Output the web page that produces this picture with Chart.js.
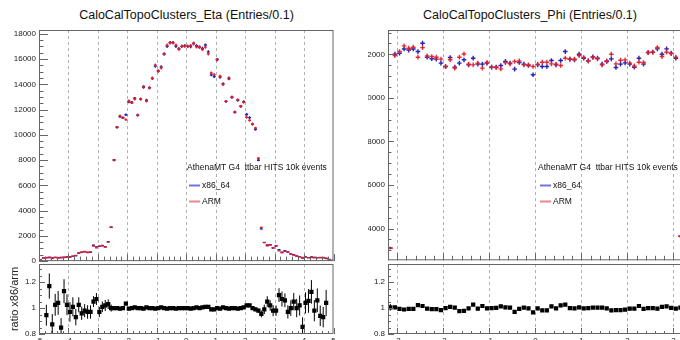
<!DOCTYPE html>
<html>
<head>
<meta charset="utf-8">
<title>CaloCalTopoClusters</title>
<script src="https://cdn.jsdelivr.net/npm/chart.js@4.4.0/dist/chart.umd.min.js"></script>
<style>
    body { margin: 0; width: 680px; height: 340px; overflow: hidden; background: #fff; position: relative;
           font-family: "Liberation Sans", Arial, Helvetica, sans-serif; }
    canvas { position: absolute; }
    .title { position: absolute; top: 8px; font-size: 12.5px; line-height: 15px; color: #111;
             text-align: center; white-space: nowrap; }
    #phiClip { position: absolute; left: 368px; top: 0; width: 312px; height: 340px; overflow: hidden; }
</style>
</head>
<body>
<div class="title" style="left:0;width:373px">CaloCalTopoClusters_Eta (Entries/0.1)</div>
<div class="title" style="left:380px;width:300px">CaloCalTopoClusters_Phi (Entries/0.1)</div>
<canvas id="etaMain" width="340" height="264" style="left:0;top:0"></canvas>
<canvas id="etaRatio" width="340" height="79" style="left:0;top:261px"></canvas>
<div id="phiClip">
    <canvas id="phiMain" width="350" height="264" style="left:-28px;top:0"></canvas>
    <canvas id="phiRatio" width="350" height="79" style="left:-28px;top:261px"></canvas>
</div>
<script>
// ===== DATA =====
const binWidth = 0.1;
const etaRange = [-5, 5];
const phiRange = [-3.2, 3.2];
const seriesNames = ['x86_64', 'ARM'];
const legendHeader = 'AthenaMT G4  ttbar HITS 10k events';

// eta, 100 bins
const etaArm = [100, 250, 280, 270, 260, 290, 250, 300, 280, 320,
    330, 380, 450, 620, 720, 760, 700, 720, 1200, 1050,
    1200, 1220, 1120, 1500, 2680, 8000, 10600, 11500, 11350, 11200,
    12680, 12560, 12830, 11560, 12830, 13830, 12680, 13730, 14470, 15520,
    15050, 15300, 16400, 17100, 17300, 17300, 17100, 16800, 17000, 17050,
    17000, 17070, 17230, 16970, 16940, 16760, 16940, 16410, 14900, 14770,
    15960, 14640, 13980, 12650, 14510, 12970, 11800, 12790, 12260, 12570,
    11380, 11140, 10850, 10540, 8150, 2670, 1480, 1220, 1270, 1060,
    1220, 820, 660, 770, 740, 560, 480, 400, 340, 290,
    320, 260, 290, 290, 260, 290, 290, 210, 130, 60];
const etaX86 = [90, 240, 265, 316, 228, 297, 260, 255, 316, 328,
    320, 384, 419, 636, 691, 745, 679, 698, 1260, 1124,
    1164, 1232, 1142, 1545, 2680, 8000, 10600, 11440, 11350, 11590,
    12620, 12560, 12890, 11560, 12830, 13760, 12740, 13730, 14470, 15440,
    15050, 15380, 16400, 17010, 17300, 17300, 17010, 16800, 17000, 17050,
    17000, 16980, 17230, 17050, 16940, 16840, 17110, 16570, 14750, 14620,
    15960, 14570, 14050, 12650, 14440, 12970, 11800, 12730, 12260, 12630,
    11610, 11360, 10850, 10430, 7990, 2550, 1465, 1280, 1295, 1040,
    1195, 900, 705, 815, 720, 560, 505, 400, 345, 250,
    335, 275, 325, 285, 275, 275, 270, 220, 120, 55];
const etaRatio = [null, null, 0.945, 1.17, 0.875, 1.025, 1.04, 0.85, 1.13, 1.025,
    0.97, 1.01, 0.93, 1.025, 0.96, 0.98, 0.97, 0.97, 1.05, 1.07,
    0.97, 1.01, 1.02, 1.03, 1.0, 1.0, 1.0, 0.995, 1.0, 1.035,
    0.995, 1.0, 1.005, 1.0, 1.0, 0.995, 1.005, 1.0, 1.0, 0.995,
    1.0, 1.005, 1.0, 0.995, 1.0, 1.0, 0.995, 1.0, 1.0, 1.0,
    1.0, 0.995, 1.0, 1.005, 1.0, 1.005, 1.01, 1.01, 0.99, 0.99,
    1.0, 0.995, 1.005, 1.0, 0.995, 1.0, 1.0, 0.995, 1.0, 1.005,
    1.02, 1.02, 1.0, 0.99, 0.98, 0.955, 0.99, 1.05, 1.02, 0.98,
    0.98, 1.1, 1.07, 1.06, 0.97, 1.0, 1.05, 1.0, 1.02, 0.855,
    1.04, 1.055, 1.125, 0.98, 1.06, 0.94, 0.93, 1.04, null, null];

// phi, 64 bins
const phiArm = [3090, 11945, 12130, 12390, 12280, 12330, 11870, 12310, 11930, 11900,
    11870, 11780, 11440, 11750, 11370, 11870, 12020, 11550, 11520, 11600,
    11370, 11625, 11415, 11395, 11335, 11620, 11565, 11672, 11702, 11519,
    11519, 11443, 11550, 11641, 11641, 11565, 11550, 11489, 11824, 11779,
    11779, 11947, 11855, 11702, 11855, 11794, 11519, 11702, 12008, 11565,
    11733, 11749, 11596, 11473, 11641, 11626, 12084, 12100, 12313, 11901,
    12100, 12038, 11870, 3640];
const phiX86 = [3110, 12010, 12055, 12250, 12200, 12250, 12130, 12510, 11870, 11800,
    11780, 11600, 11440, 11855, 11415, 11600, 11750, 11520, 11825, 11550,
    11550, 11600, 11415, 11415, 11490, 11680, 11596, 11321, 11626, 11550,
    11489, 11061, 11519, 11443, 11443, 11718, 11519, 11718, 12130, 11779,
    11749, 12008, 11824, 11702, 11885, 11824, 11550, 11672, 11794, 11397,
    11550, 11611, 11550, 11412, 11824, 11550, 12084, 12100, 12252, 12008,
    12252, 12054, 11824, 3650];
const phiRatio = [1.006, 1.005, 0.994, 0.989, 0.993, 0.994, 1.022, 1.016, 0.995, 0.992,
    0.992, 0.985, 1.0, 1.009, 1.004, 0.977, 0.978, 0.997, 1.026, 0.996,
    1.016, 0.998, 1.0, 1.002, 1.014, 1.005, 1.003, 0.97, 0.994, 1.003,
    0.997, 0.967, 0.997, 0.983, 0.983, 1.013, 0.997, 1.02, 1.026, 1.0,
    0.997, 1.005, 0.997, 1.0, 1.003, 1.003, 1.003, 0.997, 0.982, 0.985,
    0.984, 0.988, 0.996, 0.995, 1.016, 0.993, 1.0, 1.0, 0.995, 1.009,
    1.013, 1.001, 0.996, 1.003];

// axes
const etaYRange = [0, 18300];
const phiYRange = [2540, 13120];
const ratioRange = [0.8, 1.34];
const etaYTicks = [0, 2000, 4000, 6000, 8000, 10000, 12000, 14000, 16000, 18000];
const phiYTicks = [4000, 6000, 8000, 10000, 12000];
const ratioTicks = [0.8, 1, 1.2];
const etaXTicks = [-5, -4, -3, -2, -1, 0, 1, 2, 3, 4, 5];
const phiXTicks = [-3, -2, -1, 0, 1, 2, 3];

// ===== STYLE =====
const FONT = '"Liberation Sans", Arial, Helvetica, sans-serif';
const x86Color = '#2424b4';
const armColor = 'rgba(228, 28, 36, 0.9)';
Chart.defaults.font.family = FONT;
Chart.defaults.color = '#222';

function binCenters(range, values) {
    return values.map((_, i) => +(range[0] + (i + 0.5) * binWidth).toFixed(3));
}

function stepsBetween(min, max, step) {
    const out = [];
    for (let k = Math.ceil(min / step - 1e-6); k * step <= max + 1e-6; k++) {
        out.push(+(k * step).toFixed(6));
    }
    return out;
}

function isMajor(v, list) {
    return list.some(t => Math.abs(t - v) < 1e-6);
}

// ROOT-like frame, inside ticks, dashed verticals, error bars and legend
const rootStyle = {
    id: 'rootStyle',
    beforeDatasetsDraw(chart, args, o) {
        const { ctx, chartArea: a, scales: { x } } = chart;
        ctx.save();
        ctx.strokeStyle = '#b0b0b0';
        ctx.lineWidth = 1;
        ctx.setLineDash([3, 3]);
        o.grid.forEach(v => {
            const px = Math.round(x.getPixelForValue(v)) + 0.5;
            ctx.beginPath();
            ctx.moveTo(px, a.top);
            ctx.lineTo(px, a.bottom);
            ctx.stroke();
        });
        ctx.restore();
    },
    afterDatasetDraw(chart, args) {
        const ds = chart.data.datasets[args.index];
        if (!ds.errors) return;
        const { ctx, chartArea: a, scales: { y } } = chart;
        ctx.save();
        ctx.beginPath();
        ctx.rect(a.left, a.top, a.width, a.height);
        ctx.clip();
        ctx.strokeStyle = ds.errColor;
        ctx.lineWidth = ds.errWidth;
        args.meta.data.forEach((pt, i) => {
            const v = ds.data[i].y;
            if (v == null) return;
            const e = ds.errors[i];
            ctx.beginPath();
            ctx.moveTo(pt.x, y.getPixelForValue(v - e));
            ctx.lineTo(pt.x, y.getPixelForValue(v + e));
            ctx.stroke();
        });
        ctx.restore();
    },
    afterDraw(chart, args, o) {
        const { ctx, chartArea: a, scales: { x, y } } = chart;
        ctx.save();
        ctx.strokeStyle = '#666';
        ctx.lineWidth = 1;
        ctx.strokeRect(a.left + 0.5, a.top + 0.5, a.width - 1, a.height - 1);
        ctx.beginPath();
        stepsBetween(y.min, y.max, o.yMinor).forEach(v => {
            const py = Math.round(y.getPixelForValue(v)) + 0.5;
            const len = isMajor(v, o.yTicks) ? o.yLen[0] : o.yLen[1];
            ctx.moveTo(a.left, py);
            ctx.lineTo(a.left + len, py);
        });
        stepsBetween(x.min, x.max, o.xMinor).forEach(v => {
            const px = Math.round(x.getPixelForValue(v)) + 0.5;
            const len = isMajor(v, o.xTicks) ? o.xLen[0] : o.xLen[1];
            ctx.moveTo(px, a.bottom);
            ctx.lineTo(px, a.bottom - len);
        });
        ctx.stroke();

        if (o.legend) {
            const lx = a.left + o.legend.dx;
            ctx.font = '8.5px ' + FONT;
            ctx.fillStyle = '#111';
            ctx.textBaseline = 'middle';
            ctx.fillText(legendHeader, lx, 168);
            const rows = [[chart.data.datasets[0], 'rgba(70, 70, 215, 0.75)', 185.5],
                          [chart.data.datasets[1], 'rgba(235, 80, 80, 0.7)', 201.5]];
            rows.forEach(([ds, col, ly]) => {
                ctx.strokeStyle = col;
                ctx.lineWidth = 2;
                ctx.beginPath();
                ctx.moveTo(lx + 2, ly);
                ctx.lineTo(lx + 13, ly);
                ctx.stroke();
                ctx.fillText(ds.label, lx + 15, ly);
            });
        }
        ctx.restore();
    }
};

function makeScales(cfg, ratio) {
    const yr = ratio ? ratioRange : cfg.yRange;
    return {
        x: {
            type: 'linear', bounds: 'data', min: cfg.range[0], max: cfg.range[1], display: ratio,
            grid: { display: false, drawTicks: false }, border: { display: false },
            afterBuildTicks: s => { s.ticks = cfg.xTicks.map(v => ({ value: v })); },
            afterFit: s => { s.height = ratio ? 6 : 0; s.paddingLeft = 0; s.paddingRight = 0; },
            ticks: { font: { size: 8 }, color: '#222', padding: 2, maxRotation: 0, autoSkip: false,
                     callback: v => String(v) }
        },
        y: {
            type: 'linear', bounds: 'data', min: yr[0], max: yr[1],
            grid: { display: false, drawTicks: false }, border: { display: false },
            afterBuildTicks: s => { s.ticks = (ratio ? ratioTicks : cfg.yTicks).map(v => ({ value: v })); },
            afterFit: s => { s.width = cfg.axisW; s.paddingTop = 0; s.paddingBottom = 0; },
            ticks: { font: { size: 8 }, color: '#222', padding: 3, autoSkip: false,
                     callback: v => String(v) },
            title: { display: ratio, text: 'ratio x86/arm', font: { size: 11 }, color: '#222',
                     padding: { top: 8, bottom: 0 } }
        }
    };
}

function histSet(label, xs, vals, color, order, half) {
    return {
        label: label,
        data: xs.map((x, i) => ({ x: x, y: vals[i] })),
        order: order,
        pointStyle: 'line',
        pointRadius: half,
        pointHoverRadius: half,
        pointBorderColor: color,
        pointBackgroundColor: color,
        pointBorderWidth: 1.4,
        borderColor: color,
        errors: vals.map(v => Math.sqrt(v)),
        errColor: color,
        errWidth: 1.4
    };
}

function mainChart(id, cfg) {
    const xs = binCenters(cfg.range, cfg.arm);
    return new Chart(document.getElementById(id), {
        type: 'scatter',
        data: {
            datasets: [
                histSet(seriesNames[0], xs, cfg.x86, x86Color, 2, cfg.half),
                histSet(seriesNames[1], xs, cfg.arm, armColor, 1, cfg.half)
            ]
        },
        options: {
            responsive: false, animation: false, events: [],
            layout: { padding: { top: 30, right: cfg.padR, bottom: 2, left: 0 } },
            plugins: {
                legend: { display: false }, tooltip: { enabled: false },
                rootStyle: { grid: cfg.grid, xTicks: cfg.xTicks, yTicks: cfg.yTicks, xMinor: 0.2, yMinor: 500,
                             xLen: [7, 4.5], yLen: cfg.yLen, legend: { dx: cfg.legendDx } }
            },
            scales: makeScales(cfg, false)
        },
        plugins: [rootStyle]
    });
}

function ratioChart(id, cfg) {
    const xs = binCenters(cfg.range, cfg.ratio);
    const errs = cfg.ratio.map((r, i) => r == null ? 0 : r * Math.sqrt(1 / cfg.x86[i] + 1 / cfg.arm[i]));
    return new Chart(document.getElementById(id), {
        type: 'scatter',
        data: {
            datasets: [{
                label: 'ratio',
                data: xs.map((x, i) => ({ x: x, y: cfg.ratio[i] })),
                pointStyle: 'rect',
                pointRadius: 3,
                pointHoverRadius: 3,
                pointBackgroundColor: '#000',
                pointBorderWidth: 0,
                errors: errs,
                errColor: '#000',
                errWidth: 1
            }]
        },
        options: {
            responsive: false, animation: false, events: [],
            layout: { padding: { top: 0, right: cfg.padR, bottom: 0, left: 0 } },
            plugins: {
                legend: { display: false }, tooltip: { enabled: false },
                rootStyle: { grid: cfg.grid, xTicks: cfg.xTicks, yTicks: ratioTicks, xMinor: 0.2, yMinor: 0.05,
                             xLen: [6, 3], yLen: [6, 3], legend: null }
            },
            scales: makeScales(cfg, true)
        },
        plugins: [rootStyle]
    });
}

const etaCfg = {
    range: etaRange, arm: etaArm, x86: etaX86, ratio: etaRatio,
    yRange: etaYRange, yTicks: etaYTicks, xTicks: etaXTicks,
    grid: [-4, -3, -2, -1, 0, 1, 2, 3, 4],
    axisW: 39, padR: 6.5, half: 1.5, yLen: [9, 4.5], legendDx: 148
};
const phiCfg = {
    range: phiRange, arm: phiArm, x86: phiX86, ratio: phiRatio,
    yRange: phiYRange, yTicks: phiYTicks, xTicks: phiXTicks,
    grid: [-3, -2, -1, 0, 1, 2, 3],
    axisW: 48, padR: 7.3, half: 2.3, yLen: [6, 3.5], legendDx: 150
};

mainChart('etaMain', etaCfg);
ratioChart('etaRatio', etaCfg);
mainChart('phiMain', phiCfg);
ratioChart('phiRatio', phiCfg);
</script>
</body>
</html>
